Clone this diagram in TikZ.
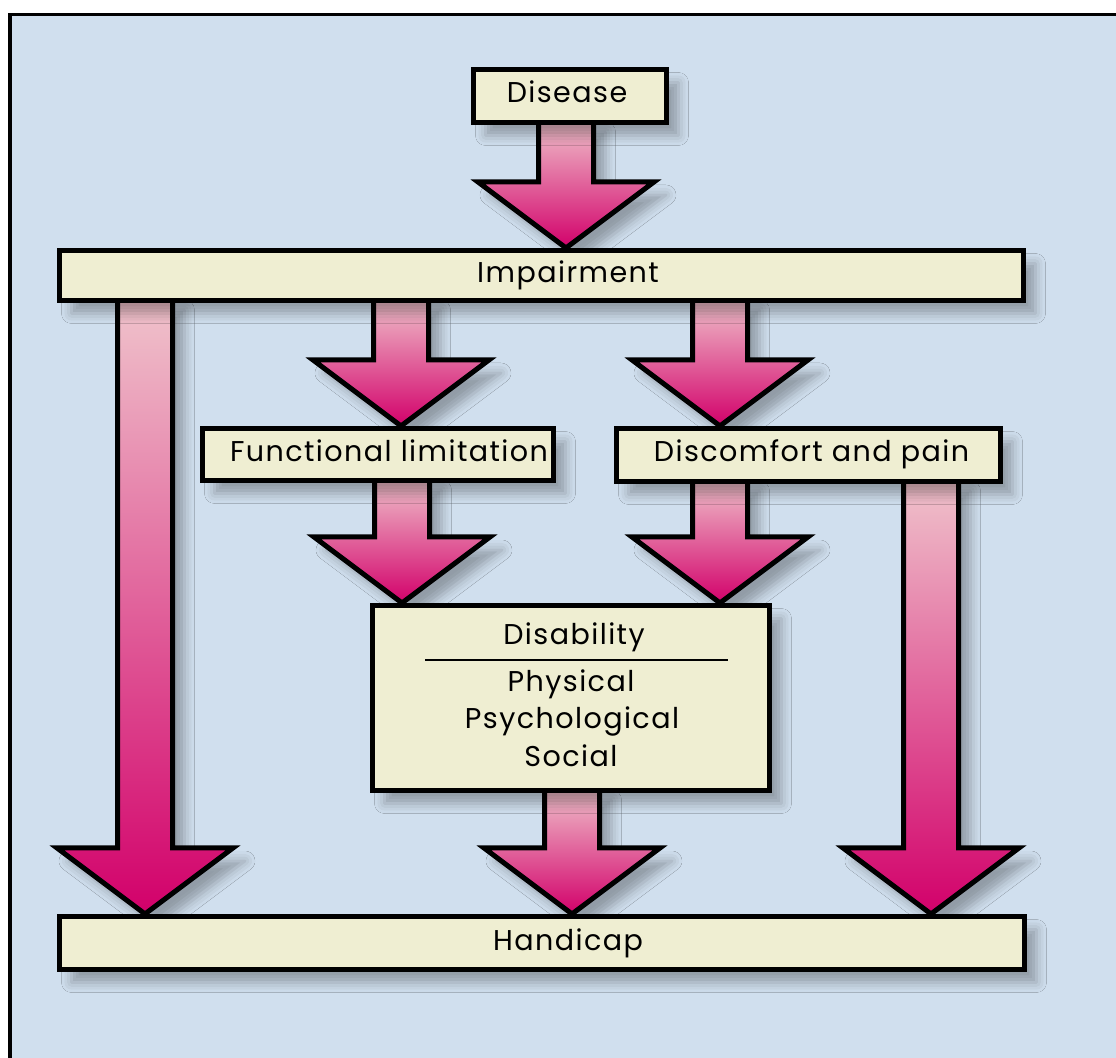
\documentclass[tikz,border=0pt]{standalone}
\usepackage{fontspec}
\setmainfont{Poppins}
\usetikzlibrary{calc,shadows.blur}
\pgfdeclarelayer{back}
\pgfsetlayers{back,main}
\definecolor{bg}{RGB}{208,223,238}
\definecolor{boxfill}{RGB}{239,238,210}
\definecolor{arrtop}{RGB}{240,196,204}
\definecolor{arrmid}{RGB}{230,146,170}
\definecolor{arrbot}{RGB}{210,0,106}
\newcommand\bigarrow[3]{%
  \path[arr] let \p1=(#1 |- #2.south), \p2=(#1 |- #3.north) in
    (\x1-13.75pt,\y1+3pt) -- (\x1+13.75pt,\y1+3pt) -- (\x1+13.75pt,\y2+33pt)
    -- (\x1+44pt,\y2+33pt) -- (\x1,\y2) -- (\x1-44pt,\y2+33pt)
    -- (\x1-13.75pt,\y2+33pt) -- cycle;}
\begin{document}
\begin{tikzpicture}[x=0.5pt,y=-0.5pt,
  shad/.style={blur shadow={shadow xshift=6pt,shadow yshift=-6.5pt,shadow blur radius=5pt,shadow opacity=30}},
  box/.style={draw=black,line width=2.5pt,fill=boxfill,inner sep=0pt,shad},
  lbl/.style={font=\fontsize{14.3}{18}\selectfont\addfontfeatures{LetterSpace=5},inner sep=0pt,anchor=base},
  arr/.style={draw=black,line width=2.5pt,line join=miter,top color=arrtop,middle color=arrmid,bottom color=arrbot,shad}]
\useasboundingbox (0,0) rectangle (1116,1058);
% boxes
\node[box,minimum width=96.5pt,minimum height=26.5pt] (dis) at (570,96) {};
\node[box,minimum width=482pt,minimum height=25pt] (imp) at (541.5,275.5) {};
\node[box,minimum width=175.5pt,minimum height=26pt] (func) at (378,454.5) {};
\node[box,minimum width=192pt,minimum height=26.5pt] (disc) at (808.5,455) {};
\node[box,minimum width=198.5pt,minimum height=92.5pt] (disab) at (571,698) {};
\node[box,minimum width=482.5pt,minimum height=26.5pt] (hand) at (542,943) {};
% arrow x positions
\coordinate (xd) at (566,0);
\coordinate (x1) at (401,0);
\coordinate (x2) at (720,0);
\coordinate (x3) at (402,0);
\coordinate (x4) at (720,0);
\coordinate (x5) at (572,0);
\coordinate (xl) at (145,0);
\coordinate (xr) at (931,0);
\begin{pgfonlayer}{back}
\fill[white] (0,0) rectangle (1116,1058);
\fill[bg] (10,14.5) rectangle (1116,1058);
\draw[line width=1.6pt] (10,1058) -- (10,14.5) -- (1116,14.5);
\bigarrow{xd}{dis}{imp}
\bigarrow{x1}{imp}{func}
\bigarrow{x2}{imp}{disc}
\bigarrow{x3}{func}{disab}
\bigarrow{x4}{disc}{disab}
\bigarrow{x5}{disab}{hand}
\bigarrow{xl}{imp}{hand}
\bigarrow{xr}{disc}{hand}
\end{pgfonlayer}
% labels
\node[lbl] (disT) at (567,103) {Disease};
\node[lbl] (impT) at (568,283) {Impairment};
\node[lbl] (funcT) at (389,462) {Functional limitation};
\node[lbl] (discT) at (811.5,462) {Discomfort and pain};
\node[lbl] (disabT) at (574,645) {Disability};
\draw[line width=0.8pt] ([shift={(55,57)}]disab.north west) -- ([shift={(-44,57)}]disab.north east);
\node[lbl] (phys) at (571,692) {Physical};
\node[lbl] (psych) at (572,729) {Psychological};
\node[lbl] (soc) at (571,767) {Social};
\node[lbl] (handT) at (568,951) {Handicap};
\end{tikzpicture}
\end{document}
